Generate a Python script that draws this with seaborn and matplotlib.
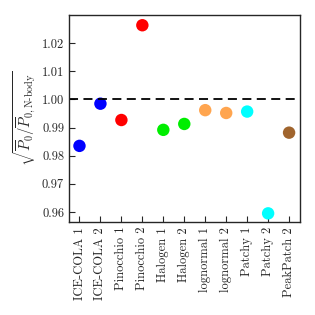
import numpy as np
import pandas as pd
import seaborn as sns
from matplotlib import pyplot as plt

# data
labels = ["ICE-COLA 1", "ICE-COLA 2", "Pinocchio 1", "Pinocchio 2", "Halogen 1",
          "Halogen 2", "lognormal 1", "lognormal 2", "Patchy 1", "Patchy 2",
          "PeakPatch 2"]
ratio = [0.9835, 0.9985, 0.9927, 1.0264, 0.9892, 0.9913, 0.9962, 0.9952,
         0.9957, 0.9595, 0.9882]
colors = ["#0000ff", "#0000ff", "#ff0000", "#ff0000", "#00ee00", "#00ee00",
          "#ffa54f", "#ffa54f", "#00ffff", "#00ffff", "#a0642d"]

sns.set_style("ticks")
plt.rcParams["font.family"] = ["cmr10", "DejaVu Serif"]
plt.rcParams["mathtext.fontset"] = "cm"
plt.rcParams["axes.formatter.use_mathtext"] = True
plt.rcParams["xtick.direction"] = "in"
plt.rcParams["ytick.direction"] = "in"

df = pd.DataFrame({"label": labels, "ratio": ratio})

fig, ax = plt.subplots(figsize=(3.15, 3.15), dpi=100)
sns.scatterplot(data=df, x="label", y="ratio", hue="label", palette=colors,
                s=80, linewidth=0, legend=False, ax=ax)
ax.axhline(1.0, color="black", linestyle="--", linewidth=1.3, dashes=(5, 3))

ax.set_xlim(-0.5, 10.5)
ax.set_ylim(0.9564, 1.030)
ax.set_yticks([0.96, 0.97, 0.98, 0.99, 1.00, 1.01, 1.02])
ax.set_yticklabels(["0.96", "0.97", "0.98", "0.99", "1.00", "1.01", "1.02"])
ax.set_xticks(range(len(labels)))
ax.set_xticklabels(labels, rotation=90)
ax.tick_params(labelsize=9, length=4, width=0.8)
ax.set_xlabel("")
ax.set_ylabel(r"$\sqrt{\overline{P}_0/\overline{P}_{0,\mathrm{N\text{-}body}}}$",
              fontsize=10.5, labelpad=3)
for sp in ax.spines.values():
    sp.set_linewidth(1.0)

fig.subplots_adjust(left=0.219, right=0.951, top=0.952, bottom=0.295)
fig.savefig("out.png", dpi=100)
